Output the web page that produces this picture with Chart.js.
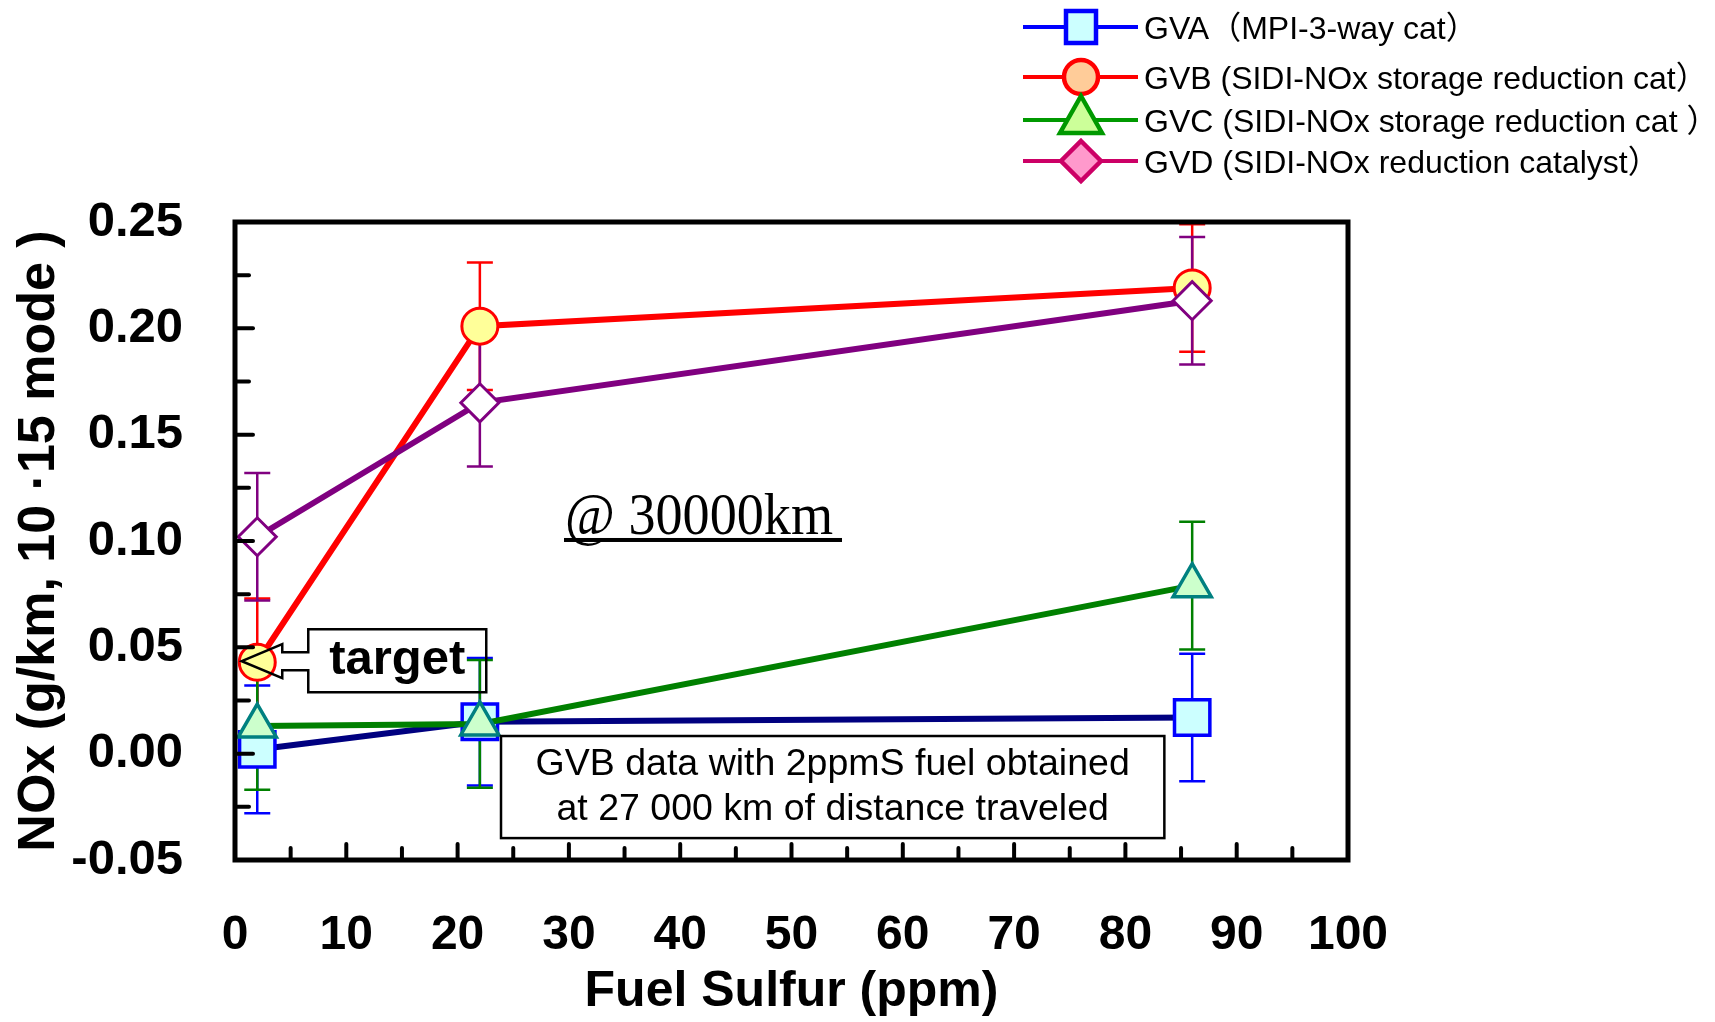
<!DOCTYPE html>
<html>
<head>
<meta charset="utf-8">
<script src="https://cdn.jsdelivr.net/npm/chart.js@4.4.1/dist/chart.umd.min.js"></script>
<style>
  html, body { margin: 0; padding: 0; background: #fff; }
  #wrap { width: 1715px; height: 1022px; }
</style>
</head>
<body>
<div id="wrap"><canvas id="chart" width="1715" height="1022"></canvas></div>
<script>
// values
const sulfur = [2, 22, 86];
const seriesNames = [
  'GVA（MPI-3-way cat）',
  'GVB (SIDI-NOx storage reduction cat）',
  'GVC (SIDI-NOx storage reduction cat ）',
  'GVD (SIDI-NOx reduction catalyst）'
];
const gva = [0.002, 0.015, 0.017];
const gvb = [0.043, 0.201, 0.219];
const gvc = [0.013, 0.014, 0.079];
const gvd = [0.102, 0.165, 0.213];
const gvaErr = [0.03, 0.03, 0.03];
const gvbErr = [0.03, 0.03, 0.03];
const gvcErr = [0.03, 0.03, 0.03];
const gvdErr = [0.03, 0.03, 0.03];
const xTickLabels = [0, 10, 20, 30, 40, 50, 60, 70, 80, 90, 100];
const yTickLabels = [-0.05, 0, 0.05, 0.10, 0.15, 0.20, 0.25];

const sans = "'Liberation Sans', Arial, sans-serif";

function pts(vals) {
  return sulfur.map((x, i) => ({ x: x, y: vals[i] }));
}

// error bars, drawn under the lines
const errorBars = {
  id: 'errorBars',
  beforeDatasetsDraw(chart) {
    const ctx = chart.ctx;
    const y = chart.scales.y;
    ctx.save();
    ctx.lineWidth = 2.5;
    chart.data.datasets.forEach((ds, di) => {
      const meta = chart.getDatasetMeta(di);
      ctx.strokeStyle = ds.errColor;
      meta.data.forEach((pt, i) => {
        const v = ds.data[i].y, e = ds.err[i];
        const top = y.getPixelForValue(v + e);
        const bot = y.getPixelForValue(v - e);
        ctx.beginPath();
        ctx.moveTo(pt.x, top); ctx.lineTo(pt.x, bot);
        ctx.moveTo(pt.x - 13, top); ctx.lineTo(pt.x + 13, top);
        ctx.moveTo(pt.x - 13, bot); ctx.lineTo(pt.x + 13, bot);
        ctx.stroke();
      });
    });
    ctx.restore();
  }
};

// box frame with inward ticks
const frame = {
  id: 'frame',
  afterDraw(chart) {
    const ctx = chart.ctx;
    const a = chart.chartArea;
    const xs = chart.scales.x, ys = chart.scales.y;
    ctx.save();
    ctx.strokeStyle = '#000';
    ctx.lineWidth = 4;
    ctx.lineCap = 'round';
    xs.ticks.forEach(t => {
      if (t.value <= xs.min || t.value >= xs.max) return;
      const px = xs.getPixelForValue(t.value);
      const len = t.value % 10 === 0 ? 16 : 12;
      ctx.beginPath();
      ctx.moveTo(px, a.bottom); ctx.lineTo(px, a.bottom - len);
      ctx.stroke();
    });
    ys.ticks.forEach(t => {
      if (t.value <= ys.min + 1e-9 || t.value >= ys.max - 1e-9) return;
      const py = ys.getPixelForValue(t.value);
      const major = Math.abs(Math.round(t.value * 1000) % 50) === 0;
      const len = major ? 18 : 14;
      ctx.beginPath();
      ctx.moveTo(a.left, py); ctx.lineTo(a.left + len, py);
      ctx.stroke();
    });
    ctx.lineCap = 'butt';
    ctx.lineWidth = 5;
    ctx.strokeRect(a.left, a.top, a.right - a.left, a.bottom - a.top);
    ctx.restore();
  }
};

// text notes inside the plot
const notes = {
  id: 'notes',
  afterDraw(chart) {
    const ctx = chart.ctx;
    const xs = chart.scales.x, ys = chart.scales.y;
    ctx.save();

    // "@30000km"
    const nx = xs.getPixelForValue(29.65), ny = ys.getPixelForValue(0.1033);
    ctx.font = "60px 'Liberation Serif', 'Times New Roman', serif";
    ctx.fillStyle = '#000';
    ctx.textBaseline = 'alphabetic';
    ctx.textAlign = 'left';
    const label = '@ 30000km';
    const w = ctx.measureText(label).width;
    ctx.save();
    ctx.translate(nx, ny);
    ctx.scale(268 / w, 1);
    ctx.fillText(label, 0, 0);
    ctx.restore();
    ctx.fillRect(nx - 1, ny + 4, 278, 4);

    // "target" callout pointing at the first GVB point
    const p = chart.getDatasetMeta(1).data[0];
    const px = p.x, py = p.y;
    const tipX = px - 15.5, tipY = py - 1;
    const headX = px + 25, bL = px + 51, bR = px + 229;
    const bT = py - 33, bB = py + 30;
    ctx.strokeStyle = '#000';
    ctx.lineWidth = 2.5;
    ctx.lineJoin = 'miter';
    ctx.beginPath();
    ctx.moveTo(tipX, tipY);
    ctx.lineTo(headX, py - 18);
    ctx.lineTo(headX, py - 10);
    ctx.lineTo(bL, py - 10);
    ctx.lineTo(bL, bT);
    ctx.lineTo(bR, bT);
    ctx.lineTo(bR, bB);
    ctx.lineTo(bL, bB);
    ctx.lineTo(bL, py + 8);
    ctx.lineTo(headX, py + 8);
    ctx.lineTo(headX, py + 16);
    ctx.closePath();
    ctx.stroke();
    ctx.font = 'bold 49px ' + sans;
    ctx.textAlign = 'center';
    ctx.textBaseline = 'middle';
    ctx.fillText('target', (bL + bR) / 2, (bT + bB) / 2);

    // data note box
    const l = xs.getPixelForValue(23.9), r = xs.getPixelForValue(83.5);
    const t = ys.getPixelForValue(0.0083), b = ys.getPixelForValue(-0.0397);
    ctx.fillStyle = '#fff';
    ctx.fillRect(l, t, r - l, b - t);
    ctx.lineWidth = 2.5;
    ctx.strokeRect(l, t, r - l, b - t);
    ctx.fillStyle = '#000';
    ctx.font = '37.5px ' + sans;
    ctx.fillText('GVB data with 2ppmS fuel obtained', (l + r) / 2, t + 29);
    ctx.fillText('at 27 000 km of distance traveled', (l + r) / 2, t + 74);
    ctx.restore();
  }
};

// legend at the top right
const legendLines = ['#0000FF', '#FF0000', '#009900', '#CC0066'];
const legendFills = ['#CCFFFF', '#FFCC99', '#CCFF99', '#FF99CC'];
const legendShapes = ['square', 'circle', 'triangle', 'diamond'];
const legendRowsY = [27, 77, 120, 161];

const topLegend = {
  id: 'topLegend',
  afterDraw(chart) {
    const ctx = chart.ctx;
    ctx.save();
    seriesNames.forEach((name, i) => {
      const y = legendRowsY[i];
      ctx.strokeStyle = legendLines[i];
      ctx.lineWidth = 4;
      ctx.beginPath();
      ctx.moveTo(1023, y); ctx.lineTo(1138, y);
      ctx.stroke();
      const cx = 1081;
      ctx.beginPath();
      if (legendShapes[i] === 'square') {
        ctx.rect(cx - 15, y - 16, 30, 32);
      } else if (legendShapes[i] === 'circle') {
        ctx.arc(cx, y, 17, 0, Math.PI * 2);
      } else if (legendShapes[i] === 'triangle') {
        ctx.moveTo(cx, y - 24); ctx.lineTo(cx + 21, y + 13); ctx.lineTo(cx - 21, y + 13); ctx.closePath();
      } else {
        ctx.moveTo(cx, y - 20); ctx.lineTo(cx + 20, y); ctx.lineTo(cx, y + 20); ctx.lineTo(cx - 20, y); ctx.closePath();
      }
      ctx.fillStyle = legendFills[i];
      ctx.fill();
      ctx.lineWidth = 4.5;
      ctx.stroke();
      ctx.fillStyle = '#000';
      ctx.font = "32px 'Liberation Sans', Arial, 'Noto Sans CJK JP', sans-serif";
      ctx.textAlign = 'left';
      ctx.textBaseline = 'middle';
      ctx.fillText(name, 1144, y + 3);
    });
    ctx.restore();
  }
};

new Chart(document.getElementById('chart'), {
  type: 'line',
  data: {
    datasets: [
      { label: seriesNames[0], data: pts(gva), err: gvaErr, errColor: '#0000FF',
        borderColor: '#000080', borderWidth: 6, pointStyle: 'rect', pointRadius: 25,
        pointBackgroundColor: '#CCFFFF', pointBorderColor: '#0000FF', pointBorderWidth: 3.5, order: 4 },
      { label: seriesNames[1], data: pts(gvb), err: gvbErr, errColor: '#FF0000',
        borderColor: '#FF0000', borderWidth: 6, pointStyle: 'circle', pointRadius: 18,
        pointBackgroundColor: '#FFFF99', pointBorderColor: '#FF0000', pointBorderWidth: 3, order: 3 },
      { label: seriesNames[2], data: pts(gvc), err: gvcErr, errColor: '#008000',
        borderColor: '#008000', borderWidth: 6, pointStyle: 'triangle', pointRadius: 22,
        pointBackgroundColor: '#CCFFCC', pointBorderColor: '#008080', pointBorderWidth: 3.5, order: 2 },
      { label: seriesNames[3], data: pts(gvd), err: gvdErr, errColor: '#800080',
        borderColor: '#800080', borderWidth: 6, pointStyle: 'rectRot', pointRadius: 19,
        pointBackgroundColor: '#FFFFFF', pointBorderColor: '#800080', pointBorderWidth: 3, order: 1 }
    ]
  },
  options: {
    responsive: false,
    animation: false,
    events: [],
    layout: { padding: { left: 0, top: 222, right: 367, bottom: 0 } },
    plugins: { legend: { display: false }, tooltip: { enabled: false } },
    scales: {
      x: {
        type: 'linear', min: 0, max: 100,
        afterFit(s) { s.height = 162; },
        grid: { display: false, drawTicks: false },
        border: { display: false },
        ticks: {
          stepSize: 5, padding: 47, color: '#000', maxRotation: 0, autoSkip: false,
          font: { family: sans, size: 48, weight: 'bold' },
          callback: v => xTickLabels.includes(v) ? String(v) : ''
        },
        title: {
          display: true, text: 'Fuel Sulfur (ppm)', color: '#000',
          font: { family: sans, size: 50, weight: 'bold' },
          padding: { top: 0, bottom: 0 }
        }
      },
      y: {
        type: 'linear', min: -0.05, max: 0.25,
        afterFit(s) { s.width = 235; },
        grid: { display: false, drawTicks: false },
        border: { display: false },
        ticks: {
          stepSize: 0.025, padding: 52, color: '#000', autoSkip: false,
          font: { family: sans, size: 49, weight: 'bold' },
          callback: v => {
            const hit = yTickLabels.find(t => Math.abs(t - v) < 1e-9);
            return hit === undefined ? '' : hit.toFixed(2);
          }
        },
        title: {
          display: true, text: 'NOx (g/km, 10 ·15 mode )', color: '#000',
          font: { family: sans, size: 52, weight: 'bold' },
          padding: { top: 8, bottom: 0 }
        }
      }
    }
  },
  plugins: [errorBars, frame, notes, topLegend]
});
</script>
</body>
</html>
